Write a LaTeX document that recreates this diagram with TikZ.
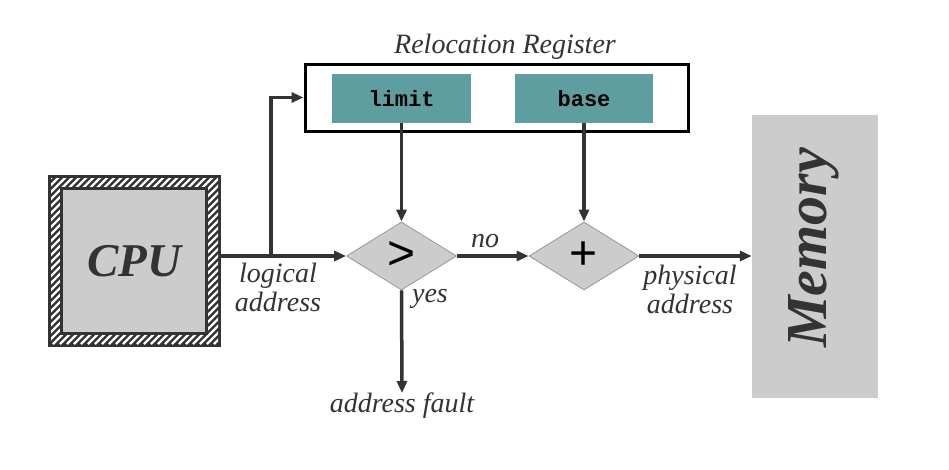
\documentclass[tikz,border=0pt]{standalone}
\usepackage{fontspec}
\setmainfont{Liberation Serif}
\setsansfont{Liberation Sans}
\setmonofont{Liberation Mono}
\usepackage{tikz}
\usetikzlibrary{positioning, shapes.geometric, arrows.meta}
\definecolor{rgDark}{RGB}{51, 51, 51}
\definecolor{rgGray}{RGB}{204, 204, 204}
\definecolor{rgEdge}{RGB}{150, 150, 150}
\definecolor{rgTeal}{RGB}{95, 158, 160}
\tikzset{
    base/.style={
        align=center,
        inner sep=0pt
    },
    register/.style={
        base,
        rectangle,
        draw=black,
        line width=3pt,
        fill=white
    },
    field/.style={
        base,
        rectangle,
        fill=rgTeal,
        font=\fontsize{22}{24}\selectfont\ttfamily\bfseries,
        minimum height=49pt
    },
    test/.style={
        base,
        diamond,
        draw=rgEdge,
        line width=0.8pt,
        fill=rgGray,
        minimum width=110pt,
        minimum height=68pt,
        font=\fontsize{48}{48}\selectfont\sffamily
    },
    store/.style={
        base,
        rectangle,
        fill=rgGray,
        text=rgDark,
        font=\fontsize{58}{58}\selectfont\bfseries\itshape
    },
    flow/.style={
        -{Triangle[length=12pt, width=10pt]},
        line width=3.5pt,
        color=rgDark
    },
    label/.style={
        base,
        font=\fontsize{28}{29}\selectfont\itshape,
        text=rgDark
    }
}
\begin{document}
\begin{tikzpicture}[x=1pt, y=-1pt]
  \useasboundingbox (0,0) rectangle (949,469);

  % CPU with hatched frame
  \fill[rgDark] (48,175) rectangle (221,347);
  \begin{scope}
    \clip (51,178) rectangle (218,344);
    \foreach \i in {-180,-173,...,180}
      \draw[white, line width=2.4pt] (51+\i,344) -- ++(180,-180);
  \end{scope}
  \fill[rgDark] (60,187) rectangle (208,335);
  \fill[rgGray] (63,190) rectangle (205,332);
  \node[base, minimum width=173pt, minimum height=172pt, text=rgDark,
        font=\fontsize{47}{47}\selectfont\bfseries\itshape] (cpu) at (134.5,261) {CPU};

  % Relocation register
  \node[register, minimum width=383pt, minimum height=67pt] (reg) at (496.5,97.5) {};
  \node[label] (regname) at (505,47) {Relocation Register};
  \node[field, minimum width=139pt] (limit) at (401.5,98.5) {limit};
  \node[field, minimum width=138pt] (base) at (584,98.5) {base};

  % Comparator and adder
  \node[test] (gt) at (401.5,256) {>};
  \node[test] (plus) at (584,256) {+};

  % Memory
  \node[store, minimum width=126pt, minimum height=283pt] (mem) at (815,256.5) {};
  \node[store, rotate=90, fill=none] (memtext) at (814,248) {Memory};

  % Address fault
  \node[label, anchor=north] (fault) at (402,393) {address fault};

  % Connectors
  \coordinate (split) at (271,256);
  \draw[flow] (cpu.east |- gt.west) -- (gt.west);
  \draw[flow] (split) |- (reg.west);
  \draw[flow] (limit.south) -- (gt.north);
  \draw[flow] (base.south) -- (plus.north);
  \draw[flow] (gt.east) -- (plus.west);
  \draw[flow] (plus.east) -- (mem.west |- plus.east);
  \draw[flow] (gt.south) -- (fault.north);

  % Labels
  \node[label] (logical) at (278,287) {logical\\address};
  \node[label] (physical) at (690,289) {physical\\address};
  \node[label] (no) at (485,241) {no};
  \node[label] (yes) at (430,299) {yes};
\end{tikzpicture}
\end{document}
